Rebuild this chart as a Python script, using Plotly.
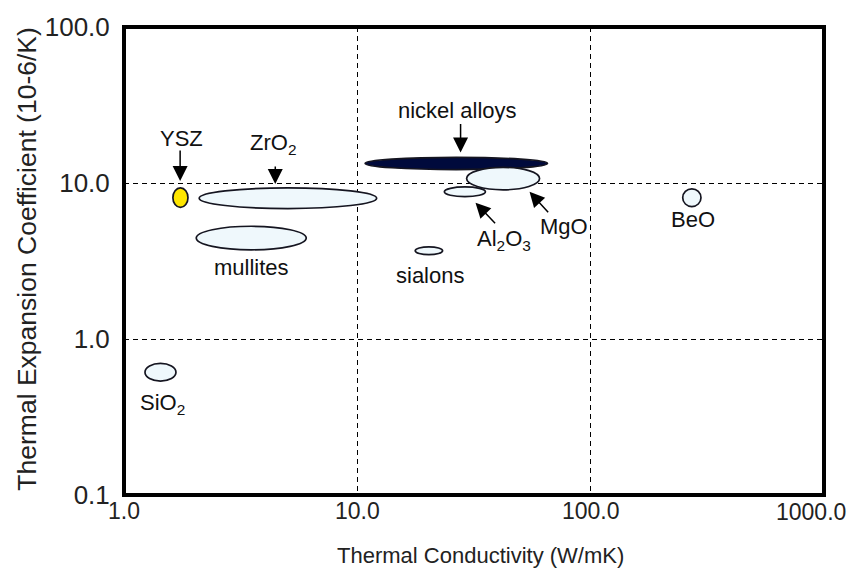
import numpy as np
import plotly.graph_objects as go

# ---- data: property ranges of each material (W/mK, 10^-6/K) ----
materials = ["YSZ", "ZrO2", "mullites", "nickel alloys", "MgO", "Al2O3", "sialons", "BeO", "SiO2"]
k_min = [1.62, 2.10, 2.04, 10.8, 29.4, 23.6, 17.7, 248.0, 1.23]
k_max = [1.88, 12.1, 6.04, 65.3, 60.4, 35.4, 23.2, 297.0, 1.67]
cte_min = [6.97, 6.86, 3.73, 12.2, 9.04, 8.17, 3.47, 7.06, 0.537]
cte_max = [9.30, 9.30, 5.28, 14.6, 12.6, 9.44, 3.90, 9.17, 0.697]
fill_colors = ["#FFE600", "#EFF8FC", "#EFF8FC", "#000A3C", "#EFF8FC", "#EFF8FC", "#EFF8FC", "#EFF8FC", "#EFF8FC"]

# ---- label texts and anchor points (data units) ----
label_text = ["YSZ", "ZrO<sub>2</sub>", "mullites", "nickel alloys", "MgO",
              "Al<sub>2</sub>O<sub>3</sub>", "sialons", "BeO", "SiO<sub>2</sub>"]
label_k = [1.766, 4.36, 3.51, 26.9, 76.6, 42.7, 20.4, 274.0, 1.456]
label_cte = [19.3, 17.9, 2.88, 29.2, 5.28, 4.30, 2.57, 5.85, 0.382]

# ---- arrows: head point (data units) and tail offset (px) ----
arrow_k = [1.74, 4.45, 27.7, 54.7, 32.1]
arrow_cte = [10.3, 9.86, 15.7, 8.78, 7.48]
arrow_dx = [0, 0, 0, 20, 21]
arrow_dy = [-32, -19, -30, 22, 22]

x_ticks = [1, 10, 100, 1000]
x_ticktext = ["1.0", "10.0", "100.0", "1000.0"]
y_ticks = [0.1, 1, 10, 100]
y_ticktext = ["0.1", "1.0", "10.0", "100.0"]

FONT = "Liberation Sans, Arial, sans-serif"
X_TICK_FONT = dict(family=FONT, size=23, color="#222222")
Y_TICK_FONT = dict(family=FONT, size=26, color="#222222")

fig = go.Figure()
# invisible trace to establish axes
fig.add_trace(go.Scatter(x=[1, 1000], y=[0.1, 100], mode="markers",
                         marker=dict(opacity=0), hoverinfo="skip", showlegend=False))

shapes = []
for i in range(len(materials)):
    shapes.append(dict(type="circle", xref="x", yref="y",
                       x0=k_min[i], x1=k_max[i], y0=cte_min[i], y1=cte_max[i],
                       fillcolor=fill_colors[i], line=dict(color="#151520", width=1.7),
                       layer="above"))
# thick frame
shapes.append(dict(type="rect", xref="paper", yref="paper", x0=0, x1=1, y0=0, y1=1,
                   line=dict(color="black", width=4), layer="above"))

annotations = []
for t, kx, cy in zip(label_text, label_k, label_cte):
    annotations.append(dict(x=np.log10(kx), y=np.log10(cy), xref="x", yref="y",
                            text=t, showarrow=False, xanchor="center", yanchor="middle",
                            font=dict(family=FONT, size=22, color="#111111")))
for kx, cy, dx, dy in zip(arrow_k, arrow_cte, arrow_dx, arrow_dy):
    annotations.append(dict(x=np.log10(kx), y=np.log10(cy), xref="x", yref="y",
                            text="", showarrow=True, ax=dx, ay=dy,
                            arrowhead=2, arrowsize=2.0, arrowwidth=1.5, arrowcolor="black",
                            standoff=0))
# last x tick label, kept inside the page as in the reference
annotations.append(dict(x=1.0343, y=-0.0361, xref="paper", yref="paper",
                        text=x_ticktext[-1], showarrow=False,
                        xanchor="right", yanchor="middle", font=X_TICK_FONT))
# axis titles
annotations.append(dict(x=0.509, y=-0.1295, xref="paper", yref="paper",
                        text="Thermal Conductivity (W/mK)", showarrow=False,
                        xanchor="center", yanchor="middle",
                        font=dict(family=FONT, size=22, color="#222222")))
annotations.append(dict(x=-0.1386, y=0.505, xref="paper", yref="paper",
                        text="Thermal Expansion Coefficient (10-6/K)", showarrow=False,
                        textangle=-90, xanchor="center", yanchor="middle",
                        font=dict(family=FONT, size=26.5, color="#222222")))

axis_common = dict(type="log", showgrid=True, gridcolor="black", gridwidth=1,
                   griddash="5px,4px", showline=False, zeroline=False)

fig.update_layout(
    width=849, height=573,
    margin=dict(l=124, r=25, t=24, b=78),
    paper_bgcolor="white", plot_bgcolor="white",
    showlegend=False,
    shapes=shapes, annotations=annotations,
    xaxis=dict(range=[0, 3], tickvals=x_ticks, ticks="", tickfont=X_TICK_FONT,
               ticktext=x_ticktext[:-1] + [""], **axis_common),
    yaxis=dict(range=[-1, 2], tickvals=y_ticks, ticktext=y_ticktext, tickfont=Y_TICK_FONT,
               ticks="outside", ticklen=8, tickwidth=1, tickcolor="rgba(0,0,0,0)",
               **axis_common),
)

fig.write_html("out.html")
